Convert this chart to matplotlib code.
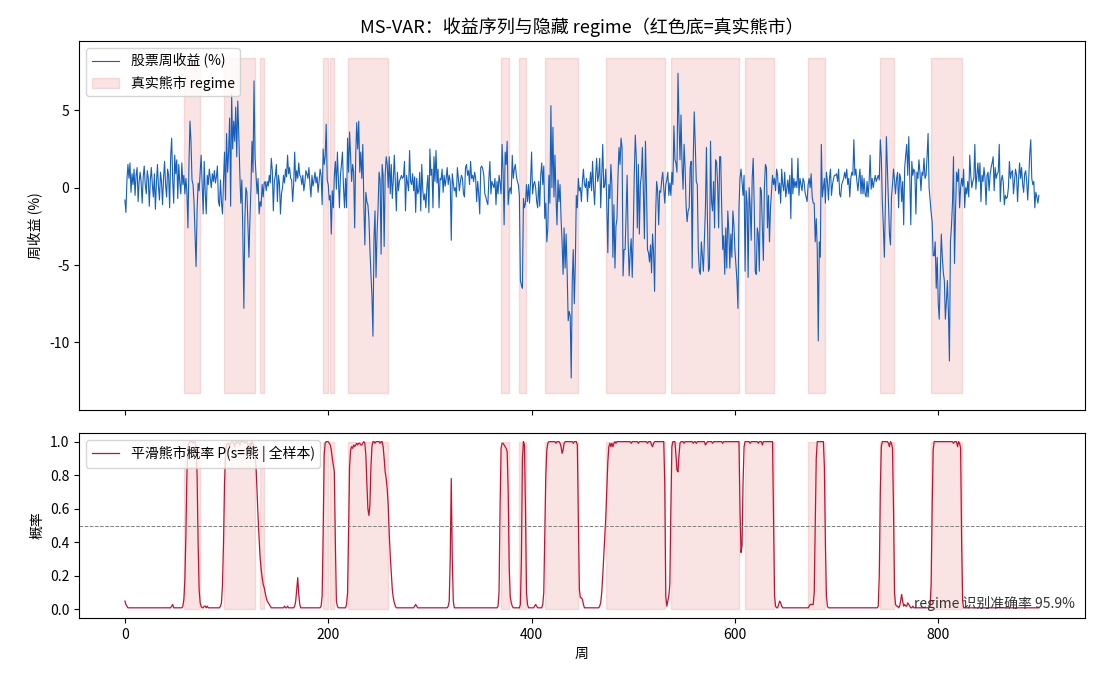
import matplotlib
matplotlib.use("Agg")
import matplotlib.pyplot as plt
import numpy as np

plt.rcParams['font.family'] = ['Noto Sans CJK SC', 'DejaVu Sans']
plt.rcParams['axes.unicode_minus'] = False

# weekly stock return (%), rows of 10 weeks
returns = [
    -0.8, -1.6, 0.5, 1.5, 0.6, 1.6, -0.3, 0.9, 0.2, 1.2,
    -0.5, 0.8, 1.3, -0.9, 0.4, 1.0, 0.3, -1.0, 0.7, 1.4,
    0.2, -0.4, 1.1, 0.6, -1.2, 0.5, 1.3, 0.2, -0.6, 0.9,
    -1.4, 0.3, 1.5, 0.1, -0.8, 1.0, 0.4, -1.1, 0.6, 1.7,
    0.2, -0.6, 1.2, 0.8, -1.3, 2.0, 3.2, 0.5, -1.0, 2.1,
    0.9, 1.8, -0.7, 1.5, 0.3, -0.4, 1.6, 0.2, 0.8, -0.4,
    0.6, -0.3, -2.6, 1.5, 4.3, 3.0, 0.5, 0.2, -1.0, -3.0,
    -5.1, -1.5, 0.3, -0.2, 1.0, 2.1, 0.2, -1.7, 1.7, -0.3,
    -1.7, 0.8, 0.2, 1.2, 0.6, 0.0, 0.9, 0.4, 1.1, 0.3,
    0.7, 1.4, -0.9, -1.2, 0.5, -1.0, -1.7, 0.5, 2.3, -0.8,
    3.5, 1.0, 2.3, 4.5, -1.2, 6.0, 2.5, 4.3, 3.0, 5.2,
    2.0, 5.6, 3.5, 1.0, -1.0, 0.5, -3.0, -7.8, -2.0, 0.0,
    -0.3, -2.5, -4.5, -2.0, 0.0, 3.0, 1.0, 6.9, 2.0, 0.8,
    -0.4, 0.6, -1.7, -0.9, -1.2, 0.2, -0.6, 0.3, 0.4, -0.2,
    0.4, 0.1, 0.8, 0.3, 1.9, 1.1, -1.5, 0.4, 0.8, 1.5,
    -0.9, 0.8, 0.3, -1.7, -0.4, 0.0, 0.8, 0.3, 1.2, 0.7,
    2.1, 0.9, 1.3, 0.6, 0.5, -0.9, 0.2, 2.3, 0.4, 1.1,
    0.6, 1.6, 0.8, 0.7, 0.2, 0.8, -0.2, 0.3, 1.1, 0.9,
    0.6, 1.3, 0.2, -0.6, 0.8, 0.1, 0.5, 1.0, 0.3, 0.7,
    -0.3, 0.4, 1.2, 0.8, -1.1, 2.5, 1.5, 2.0, 4.1, 0.5,
    0.2, -0.8, -0.5, -3.0, -0.2, -1.3, 0.8, 1.7, -0.1, 2.3,
    0.4, -1.3, 0.8, 1.5, 2.3, 0.0, -1.3, 0.6, -1.3, 3.2,
    1.0, 3.6, 2.0, 0.4, 1.5, 1.0, -2.6, 2.0, 4.2, 2.5,
    4.3, 1.0, 2.3, 0.6, 2.8, -1.0, -3.7, -0.3, -0.9, -1.1,
    -2.0, -4.0, -5.6, -7.0, -9.6, -3.3, -1.5, -5.8, -3.0, -1.3,
    1.0, 0.5, -4.3, 1.5, 0.8, -3.8, 0.8, 2.0, 1.5, 0.0,
    2.0, -0.4, 1.5, -0.7, 0.5, 2.1, 0.2, -1.5, 1.0, -0.2,
    0.4, 0.6, 0.8, 0.6, 0.7, 1.7, -1.5, 0.8, 0.3, -0.2,
    2.4, 0.4, 0.2, 0.9, -0.2, 0.7, -1.6, 0.6, -0.4, -0.2,
    1.0, -1.5, 1.5, -0.2, -0.8, -0.4, -1.3, 0.0, 0.8, -1.6,
    2.5, 0.8, 1.2, -1.3, 2.0, 0.4, 2.4, 0.3, 1.2, -1.3,
    0.6, 0.5, 1.2, -0.3, 0.8, 0.1, 0.6, 1.3, 0.2, 0.8,
    0.4, -3.4, 0.9, 0.3, -0.2, 0.0, -0.6, 1.3, 0.6, -0.2,
    0.4, 0.8, 0.6, -0.4, -0.6, 1.3, 1.5, 0.8, 1.1, 0.2,
    1.7, 0.6, 0.8, 0.4, 1.0, 0.6, -0.9, 0.4, -0.4, -1.7,
    1.3, 1.4, 1.2, 0.8, -0.4, -0.6, -0.9, -1.1, 0.6, 1.7,
    -0.4, 0.4, 0.2, 0.0, 0.6, -1.1, 0.4, -0.4, 0.8, 0.3,
    -0.4, 2.8, 1.0, -2.4, 2.3, 1.5, 3.0, -1.1, -0.2, 0.0,
    -0.4, 2.1, 0.6, 1.2, 1.5, 0.8, 0.4, 0.2, -0.5, -6.0,
    -6.3, -6.5, -0.7, -1.3, -1.0, 0.2, -0.9, 0.2, -1.0, 0.4,
    2.3, -0.4, 0.2, 0.4, 0.0, -0.9, -1.3, 0.4, -1.2, 0.8,
    1.6, 0.2, 1.4, -2.0, -1.0, -3.5, -2.6, 0.8, -1.0, 5.3,
    0.0, 3.9, -0.6, 2.1, -0.6, -2.4, 0.5, -0.9, 0.2, -2.0,
    -3.5, -5.6, -2.6, -5.2, -3.0, -5.5, -8.6, -8.0, -8.3, -12.3,
    -6.0, -4.0, -7.5, -5.0, -0.5, -1.3, 0.6, -0.2, 0.0, -0.9,
    0.4, 1.2, 0.2, 0.0, 0.6, -0.9, 0.4, 0.0, 1.0, -0.2,
    1.7, 0.0, -1.1, 0.8, 1.9, 0.4, 0.8, 1.9, -1.3, 0.8,
    2.8, 0.0, 0.2, 1.2, -1.2, -4.2, 0.2, -0.7, 1.5, 0.2,
    -4.5, -1.1, -5.2, -2.5, -2.0, 0.8, 2.6, 1.5, 3.2, 2.6,
    -5.7, -4.0, -4.0, -1.7, 0.8, -3.5, -5.7, -4.2, -3.3, -5.8,
    -3.0, 0.8, 3.4, 1.9, -2.6, 1.5, -3.0, 0.2, 0.8, 2.6,
    -0.2, -3.3, 3.0, 0.0, -4.0, -4.2, -4.8, -3.7, -5.5, -3.0,
    -4.2, -6.7, -1.8, 0.4, -0.2, -2.4, -0.2, -0.3, 0.5, 1.0,
    0.0, -1.0, 0.2, 0.5, 1.0, -0.5, 0.3, -0.5, 1.0, 0.2,
    4.0, 1.8, 1.6, 1.0, 7.4, 4.2, 1.8, 4.7, 1.5, -0.1,
    2.8, 1.3, -1.2, -2.2, -1.5, -1.3, 1.3, 1.7, -5.2, 1.8,
    4.9, 2.8, 0.4, 0.2, -4.0, -5.4, -5.6, -3.5, -4.5, -5.4,
    -3.3, -1.3, 2.6, -2.2, -5.4, -5.2, 3.0, -0.9, -1.5, 0.4,
    -2.6, 1.8, 1.6, 0.2, -2.6, 2.0, 2.0, -1.3, -4.0, -3.1,
    -5.6, -2.6, -5.2, -1.5, -2.8, -5.2, -3.0, -4.5, -1.5, -2.4,
    -4.0, -5.0, -6.0, -7.8, -1.3, 0.6, 1.2, 0.4, -0.5, 0.8,
    -5.4, -0.2, -1.0, -5.8, 0.0, -1.2, -3.4, 0.6, 1.9, -1.2,
    -5.4, -5.6, -2.6, -3.0, -5.4, 0.0, -0.2, -2.6, -4.7, 0.0,
    1.5, 1.3, -2.6, -0.5, -3.5, -1.3, -0.3, 0.8, 0.2, 0.6,
    -0.2, 1.2, 0.8, -0.4, 0.3, -1.0, 1.2, 0.2, -0.2, 1.0,
    -0.6, -0.1, 0.5, -0.4, 0.8, -2.0, 1.9, -0.4, 0.6, 0.0,
    0.4, 0.0, 1.9, -0.5, 0.6, 0.2, -0.2, 0.6, 0.4, -0.3,
    -0.6, -0.9, 0.2, 0.6, 0.0, 0.9, -0.6, -1.0, -1.0, -3.5,
    -2.0, -4.0, -9.9, -3.5, -4.5, 2.8, -0.6, 0.0, 0.6, -1.0,
    1.0, 0.4, -0.8, 0.6, 1.2, -0.5, 0.2, 0.6, 0.8, 0.8,
    0.9, 0.4, 1.2, -0.4, -0.6, 0.2, 0.4, 0.6, 1.0, 0.6,
    1.2, 0.2, 0.6, -0.6, 0.6, 1.0, 0.8, 3.1, 0.8, 1.2,
    0.4, -0.2, 0.6, 1.2, -0.4, 0.8, -0.4, 0.6, -0.4, -0.6,
    0.4, -0.6, 0.4, 2.1, -0.1, 0.6, 0.0, 0.4, 0.8, 0.4,
    0.6, 0.8, 0.5, 3.1, 2.0, -0.9, -2.5, -4.5, -1.0, 3.3,
    1.2, -1.0, -3.0, -3.7, -0.6, 0.2, 1.2, 0.5, -0.4, 0.6,
    1.0, -1.3, 0.9, 0.6, -0.9, 0.4, -2.4, 1.3, 2.1, 2.8,
    0.8, 3.3, 0.6, -2.4, 1.7, 0.8, 1.2, 1.0, -1.7, 1.0,
    0.6, 1.8, 1.0, -0.2, 1.0, 0.8, 1.9, 0.6, 0.8, 2.0,
    3.5, 0.0, -0.8, -1.6, -2.2, -4.4, -4.4, -3.5, -6.5, -4.5,
    -7.5, -8.5, -5.5, -3.0, -4.5, -5.5, -6.0, -8.5, -7.4, -6.0,
    -8.0, -11.2, -3.5, -2.5, -1.0, 2.0, -4.9, -1.5, 1.0, 0.4,
    1.2, -1.3, 0.0, 0.6, 0.1, 1.2, -1.3, 0.0, -0.4, 0.4,
    -0.6, 2.1, 0.8, 0.0, 0.4, 0.6, 2.8, -0.1, 0.8, 1.6,
    0.4, 1.6, -0.9, 0.8, 0.4, 1.3, 0.6, -1.1, 0.8, 1.0,
    -0.2, 0.8, 1.3, 1.6, 2.0, -0.2, 1.3, 0.6, 0.9, 1.0,
    2.8, -0.9, 0.5, 0.8, 0.3, -1.1, -0.5, -0.7, -0.6, 0.0,
    1.7, 0.6, 1.0, 1.1, -0.4, 0.4, 1.2, 0.8, -0.9, 0.5,
    1.6, 0.6, 1.3, 0.2, -0.3, 0.9, 1.1, 0.4, -0.8, 0.6,
    2.2, 3.1, 0.6, 0.2, 0.4, -1.3, -0.3, -0.6, -1.0, -0.5,
]

# smoothed bear probability (in %), rows of 20 weeks
bear_prob_pct = [
    5, 3, 2, 1, 1, 1, 1, 1, 1, 1, 1, 1, 1, 1, 1, 1, 1, 1, 1, 1,
    1, 1, 1, 1, 1, 1, 1, 1, 1, 1, 1, 1, 1, 1, 1, 1, 1, 1, 1, 1,
    1, 1, 1, 1, 1, 1, 2, 3, 1, 1, 1, 1, 1, 1, 1, 1, 1, 2, 6, 18,
    45, 80, 97, 99, 100, 100, 100, 99, 100, 100, 96, 80, 40, 12, 4, 2, 1, 1, 2, 2,
    1, 2, 1, 1, 1, 1, 1, 1, 1, 1, 1, 1, 1, 1, 2, 4, 15, 40, 75, 93,
    98, 99, 99, 97, 99, 100, 100, 99, 97, 100, 99, 100, 100, 98, 100, 100, 100, 100, 99, 100,
    100, 98, 96, 99, 97, 100, 99, 97, 95, 85, 70, 55, 42, 31, 24, 19, 15, 13, 10, 7,
    5, 4, 3, 2, 1, 1, 1, 1, 1, 1, 1, 1, 1, 1, 1, 1, 1, 2, 1, 1,
    2, 1, 1, 1, 1, 1, 1, 2, 5, 12, 19, 9, 3, 1, 1, 1, 1, 1, 1, 1,
    1, 1, 1, 1, 1, 1, 1, 1, 1, 1, 1, 1, 1, 2, 8, 45, 92, 99, 100, 100,
    100, 99, 98, 95, 90, 86, 82, 40, 5, 2, 1, 1, 1, 1, 1, 1, 1, 1, 3, 10,
    45, 85, 95, 97, 96, 98, 97, 98, 99, 98, 99, 99, 98, 98, 99, 100, 99, 92, 75, 60,
    56, 62, 85, 97, 100, 100, 99, 100, 100, 100, 100, 99, 100, 100, 97, 90, 82, 78, 72, 62,
    45, 32, 22, 12, 7, 4, 2, 1, 1, 1, 1, 1, 1, 1, 1, 1, 1, 1, 1, 1,
    1, 1, 1, 1, 1, 2, 3, 2, 1, 1, 1, 1, 1, 1, 1, 1, 1, 1, 1, 1,
    1, 1, 1, 1, 1, 1, 1, 1, 1, 1, 1, 1, 1, 1, 1, 1, 1, 1, 2, 5,
    30, 78, 30, 5, 1, 1, 1, 1, 1, 1, 1, 1, 1, 1, 1, 1, 1, 1, 1, 1,
    1, 1, 1, 1, 1, 1, 1, 1, 1, 1, 1, 1, 1, 1, 1, 1, 1, 1, 1, 1,
    1, 1, 1, 1, 1, 1, 1, 2, 10, 60, 96, 99, 99, 98, 97, 96, 94, 70, 25, 8,
    4, 2, 1, 1, 1, 1, 1, 1, 1, 3, 30, 90, 100, 98, 60, 10, 3, 1, 1, 1,
    1, 1, 1, 2, 3, 2, 1, 1, 1, 1, 1, 3, 10, 45, 80, 95, 99, 100, 100, 100,
    100, 100, 100, 100, 99, 100, 100, 100, 99, 97, 93, 95, 99, 100, 100, 100, 100, 100, 100, 100,
    100, 99, 100, 100, 100, 98, 55, 12, 7, 7, 6, 3, 1, 1, 1, 1, 1, 1, 1, 1,
    1, 1, 1, 1, 1, 1, 1, 2, 4, 10, 20, 32, 45, 55, 72, 88, 97, 99, 97, 99,
    97, 99, 100, 99, 100, 100, 100, 100, 100, 100, 100, 100, 100, 100, 100, 100, 100, 100, 99, 100,
    100, 100, 100, 100, 100, 99, 100, 100, 100, 100, 100, 100, 100, 100, 99, 100, 100, 100, 98, 97,
    99, 100, 100, 100, 100, 100, 100, 100, 100, 100, 100, 75, 8, 2, 5, 8, 15, 60, 97, 100,
    100, 100, 92, 83, 82, 92, 99, 100, 100, 100, 99, 100, 100, 100, 100, 100, 100, 100, 100, 99,
    100, 100, 99, 100, 100, 100, 100, 100, 100, 100, 100, 98, 99, 100, 100, 100, 100, 100, 99, 100,
    100, 100, 100, 100, 100, 100, 100, 100, 99, 100, 100, 100, 100, 100, 100, 100, 100, 100, 100, 100,
    100, 100, 100, 100, 100, 60, 34, 38, 75, 97, 100, 100, 100, 100, 100, 99, 100, 100, 100, 100,
    100, 100, 100, 99, 100, 100, 100, 98, 100, 100, 100, 100, 100, 100, 100, 100, 100, 100, 55, 8,
    2, 1, 1, 3, 5, 4, 2, 1, 1, 1, 1, 1, 1, 1, 1, 1, 1, 1, 1, 1,
    1, 1, 1, 1, 1, 1, 1, 1, 1, 1, 1, 1, 1, 2, 3, 3, 3, 3, 10, 50,
    90, 100, 100, 100, 100, 100, 100, 100, 85, 40, 8, 2, 1, 1, 1, 1, 1, 1, 1, 1,
    1, 1, 1, 1, 1, 1, 1, 1, 1, 1, 1, 1, 1, 1, 1, 1, 1, 1, 1, 1,
    1, 1, 1, 1, 1, 1, 1, 1, 1, 1, 1, 1, 1, 1, 1, 1, 1, 1, 1, 1,
    1, 2, 20, 70, 97, 100, 100, 100, 100, 100, 100, 99, 97, 100, 99, 96, 60, 10, 3, 2,
    2, 1, 2, 5, 9, 5, 2, 3, 2, 2, 4, 3, 2, 1, 1, 2, 1, 1, 1, 1,
    1, 1, 1, 1, 1, 1, 1, 1, 1, 1, 1, 1, 2, 15, 60, 95, 100, 100, 100, 100,
    100, 100, 100, 100, 100, 100, 100, 100, 100, 100, 100, 100, 100, 100, 100, 99, 100, 100, 100, 97,
    100, 99, 96, 40, 5, 1, 1, 1, 1, 1, 1, 1, 1, 1, 1, 1, 1, 1, 1, 1,
    1, 1, 1, 1, 1, 1, 1, 1, 1, 1, 1, 1, 1, 1, 1, 1, 1, 1, 1, 1,
    1, 1, 1, 1, 1, 1, 1, 1, 1, 1, 1, 1, 1, 1, 1, 1, 1, 1, 1, 1,
    1, 1, 1, 1, 1, 1, 1, 1, 1, 1, 1, 1, 1, 1, 1, 1, 1, 1, 1, 1,
]

# true bear regime, (first week, last week)
bear_periods = [(58, 74), (97, 128), (133, 137), (195, 200), (202, 206), (219, 259),
                (370, 378), (388, 395), (413, 446), (473, 531), (537, 604), (610, 638),
                (672, 689), (743, 756), (793, 823)]
accuracy = 95.9

ret = np.array(returns)
prob = np.array(bear_prob_pct) / 100
weeks = np.arange(len(ret))
weeks_p = np.arange(len(prob))
bear = np.zeros(len(ret), dtype=bool)
for a, b in bear_periods:
    bear[a:b + 1] = True
bear_p = np.zeros(len(prob), dtype=bool)
for a, b in bear_periods:
    bear_p[a:b + 1] = True

fig, (ax1, ax2) = plt.subplots(2, 1, figsize=(11, 6.82), dpi=100, sharex=True,
                               gridspec_kw={'height_ratios': [2, 1]})
fig.subplots_adjust(left=0.072, right=0.986, top=0.94, bottom=0.094, hspace=0.083)

ax1.plot(weeks, ret, color='#1560bd', lw=0.8, label='股票周收益 (%)')
ax1.fill_between(weeks, ret.min() - 1, ret.max() + 1, where=bear, color='#d62728',
                 alpha=0.13, label='真实熊市 regime')
ax1.set_ylabel('周收益 (%)', fontsize=10)
ax1.set_title('MS-VAR：收益序列与隐藏 regime（红色底=真实熊市）', fontsize=13)
ax1.legend(loc='upper left', fontsize=10)
ax1.tick_params(labelsize=10)

ax2.plot(weeks_p, prob, color='#c8102e', lw=0.9, label='平滑熊市概率 P(s=熊 | 全样本)')
ax2.fill_between(weeks_p, 0, 1, where=bear_p, color='#d62728', alpha=0.13)
ax2.axhline(0.5, color='gray', ls='--', lw=0.7)
ax2.set_ylabel('概率', fontsize=10)
ax2.set_xlabel('周', fontsize=10)
ax2.legend(loc='upper left', fontsize=10)
ax2.tick_params(labelsize=10)
ax2.text(0.99, 0.04, f'regime 识别准确率 {accuracy}%', transform=ax2.transAxes,
         ha='right', va='bottom', fontsize=10, color='#333333')

plt.savefig('out.png', dpi=100)
plt.close()
